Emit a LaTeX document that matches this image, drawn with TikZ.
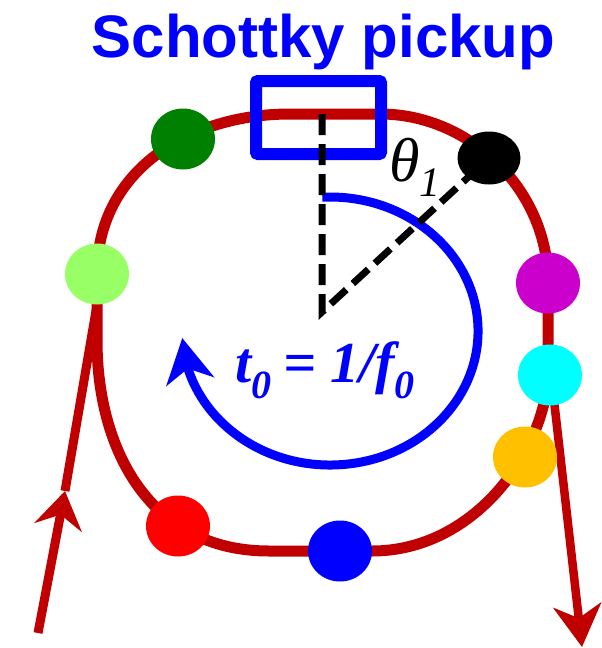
\documentclass[tikz,border=0pt]{standalone}
\usepackage{fontspec}
\newfontfamily\titlefont{Liberation Sans}
\newfontfamily\tnrfont{Liberation Serif}
\usetikzlibrary{arrows.meta,bending,shapes.geometric}
\definecolor{ringred}{RGB}{192,0,0}
\definecolor{pblue}{RGB}{0,0,255}
\definecolor{dgreen}{RGB}{0,128,0}
\definecolor{lgreen}{RGB}{153,255,102}
\definecolor{pmag}{RGB}{204,0,204}
\definecolor{pcyan}{RGB}{0,255,255}
\definecolor{porange}{RGB}{255,192,0}
\definecolor{pred}{RGB}{255,0,0}
\begin{document}
\begin{tikzpicture}[x=1pt,y=-1pt,
  ring/.style={draw=ringred,line width=11pt,line join=round},
  beamline/.style={draw=ringred,line width=9pt},
  bunch/.style={ellipse,draw=none,minimum width=64pt,minimum height=61pt,inner sep=0pt},
  pickupbox/.style={draw=pblue,line width=12pt,rounded corners=2pt},
  radiusline/.style={draw=black,line width=7pt,dash pattern=on 21pt off 9pt},
  revline/.style={draw=pblue,line width=9pt},
  bigtip/.style={-{Stealth[length=#1,width=48pt,inset=13pt,flex]}}
]
\useasboundingbox (0,0) rectangle (602,648);

% ring (closed orbit)
\draw[ring] (97,340) -- (97,274) .. controls (97,170) and (190,114) .. (290,114)
  -- (380,114) .. controls (470,114) and (548,190) .. (548,282)
  -- (548,380) .. controls (540,460) and (470,551) .. (372,551)
  -- (269,551) .. controls (150,551) and (97,450) .. (97,340) -- cycle;

% injection and extraction lines
\coordinate (in0) at (38,633);
\coordinate (inmid) at (65,491);
\coordinate (inj) at (97,305);
\draw[beamline,bigtip=37pt] (in0) -- (inmid);
\draw[beamline] (inmid) -- (inj);
\coordinate (ex0) at (550,365);
\coordinate (ex1) at (582,647);
\draw[beamline,line width=8.5pt,bigtip=42pt] (ex0) -- (ex1);

% pickup box
\node[pickupbox,minimum width=125pt,minimum height=73pt,inner sep=0pt] (pickup) at (318.5,117.5) {};

% revolution arc
\coordinate (arcstart) at (322.3,197.2);
\draw[revline,bigtip=44pt] (arcstart) arc[start angle=-93,end angle=177,x radius=148,y radius=134];

% bunches
\node[bunch,fill=dgreen] (b1) at (183,139) {};
\node[bunch,fill=lgreen] (b2) at (97,274) {};
\node[bunch,fill=pred] (b3) at (178,526) {};
\node[bunch,fill=pblue] (b4) at (340,551) {};
\node[bunch,fill=porange] (b5) at (525,457) {};
\node[bunch,fill=pcyan] (b6) at (550,375) {};
\node[bunch,fill=pmag] (b7) at (548,283) {};

% angle lines
\coordinate (ptop) at (322,114);
\coordinate (cen) at (322,312);
\coordinate (b8c) at (489,158);
\draw[radiusline] (ptop) -- (cen) -- (b8c);
\node[bunch,fill=black,minimum width=63pt,minimum height=53pt] (b8) at (b8c) {};

% labels
\node[anchor=base,inner sep=0pt,text=pblue,font={\titlefont\bfseries\fontsize{60pt}{60pt}\selectfont}] (title) at (323.5,57) {Schottky pickup};
\node[anchor=base west,inner sep=0pt] (theta) at (389,181) {\tnrfont\itshape\fontsize{62pt}{62pt}\selectfont θ\raisebox{-15pt}{\fontsize{42pt}{42pt}\selectfont 1}};
\node[anchor=base west,inner sep=0pt,text=pblue] (period) at (235,382) {\tnrfont\bfseries\itshape\fontsize{58pt}{58pt}\selectfont t\raisebox{-16pt}{\fontsize{40pt}{40pt}\selectfont 0}\hspace{12pt}=\hspace{14pt}1/f\raisebox{-16pt}{\fontsize{40pt}{40pt}\selectfont 0}};
\end{tikzpicture}
\end{document}
